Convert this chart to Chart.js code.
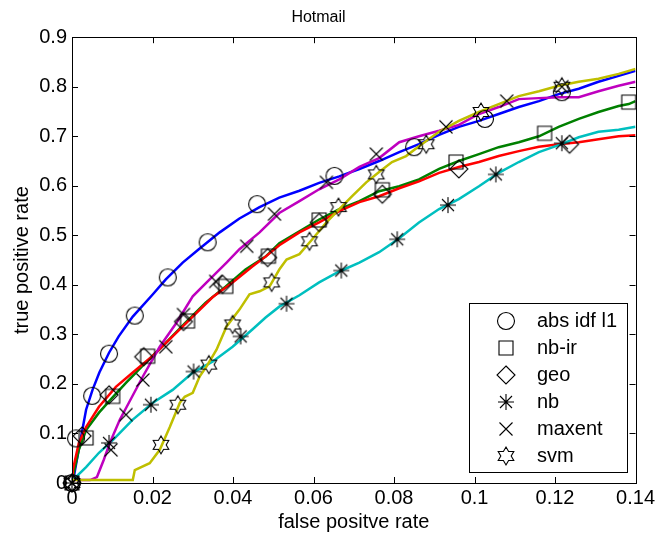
<!DOCTYPE html>
<html>
<head>
<meta charset="utf-8">
<script src="https://cdn.jsdelivr.net/npm/chart.js@4/dist/chart.umd.min.js"></script>
<style>
  html, body { margin: 0; padding: 0; background: #fff; }
  #wrap { width: 658px; height: 535px; }
</style>
</head>
<body>
<div id="wrap"><canvas id="grafico" width="658" height="535"></canvas></div>
<script>
// ===== DADOS =====
const chartTitle = 'Hotmail';
const xTitle = 'false positve rate';
const yTitle = 'true positive rate';

const xTicks = [0, 0.02, 0.04, 0.06, 0.08, 0.1, 0.12, 0.14];
const xTickLabels = ['0', '0.02', '0.04', '0.06', '0.08', '0.1', '0.12', '0.14'];
const yTicks = [0, 0.1, 0.2, 0.3, 0.4, 0.5, 0.6, 0.7, 0.8, 0.9];
const yTickLabels = ['0', '0.1', '0.2', '0.3', '0.4', '0.5', '0.6', '0.7', '0.8', '0.9'];

const seriesNames = ['abs idf l1', 'nb-ir', 'geo', 'nb', 'maxent', 'svm'];
const seriesColors = ['#0000ff', '#008000', '#ff0000', '#00bfbf', '#bf00bf', '#bfbf00'];
const markerShapes = ['circle', 'square', 'diamond', 'asterisk', 'x', 'hexagram'];

// curvas [fpr, tpr]
const absIdfL1Curve = [[0,0],[0.0003,0.006],[0.0018,0.073],[0.0035,0.148],[0.0051,0.188],[0.0068,0.223],[0.0092,0.263],[0.0116,0.296],[0.0151,0.336],[0.0201,0.381],[0.0233,0.411],[0.0275,0.445],[0.0315,0.472],[0.0367,0.506],[0.0416,0.534],[0.0466,0.557],[0.0515,0.576],[0.0565,0.590],[0.0614,0.606],[0.0664,0.619],[0.0714,0.634],[0.0763,0.650],[0.0813,0.668],[0.0862,0.684],[0.0912,0.703],[0.0961,0.719],[0.1011,0.731],[0.1060,0.745],[0.1110,0.759],[0.1160,0.771],[0.1209,0.785],[0.1259,0.796],[0.1308,0.810],[0.1358,0.822],[0.14,0.832]];
const nbIrCurve = [[0,0],[0.0002,0.012],[0.0017,0.067],[0.0035,0.107],[0.0067,0.142],[0.0102,0.174],[0.0134,0.202],[0.0183,0.243],[0.0233,0.283],[0.0282,0.324],[0.0332,0.364],[0.0382,0.397],[0.0431,0.431],[0.0481,0.457],[0.0515,0.484],[0.0565,0.508],[0.0614,0.532],[0.0664,0.553],[0.0714,0.569],[0.0763,0.589],[0.0813,0.599],[0.0862,0.613],[0.0912,0.634],[0.0961,0.650],[0.1011,0.664],[0.1060,0.678],[0.1110,0.688],[0.1160,0.700],[0.1209,0.719],[0.1259,0.735],[0.1308,0.749],[0.1358,0.761],[0.1383,0.765],[0.14,0.771]];
const geoCurve = [[0,0],[0.0002,0.026],[0.0017,0.081],[0.0035,0.113],[0.0067,0.154],[0.0109,0.194],[0.0151,0.223],[0.0201,0.257],[0.0250,0.296],[0.0300,0.336],[0.0349,0.375],[0.0399,0.405],[0.0448,0.437],[0.0481,0.457],[0.0515,0.480],[0.0565,0.506],[0.0614,0.526],[0.0664,0.549],[0.0714,0.567],[0.0763,0.579],[0.0813,0.595],[0.0862,0.609],[0.0912,0.626],[0.0961,0.638],[0.1011,0.648],[0.1060,0.660],[0.1110,0.670],[0.1160,0.679],[0.1209,0.684],[0.1259,0.688],[0.1308,0.694],[0.1358,0.700],[0.14,0.702]];
const nbCurve = [[0,0],[0.0002,0.006],[0.0035,0.032],[0.0067,0.061],[0.0102,0.087],[0.0151,0.128],[0.0201,0.162],[0.0250,0.188],[0.0300,0.223],[0.0349,0.245],[0.0399,0.275],[0.0448,0.310],[0.0481,0.334],[0.0515,0.356],[0.0565,0.379],[0.0614,0.405],[0.0664,0.427],[0.0714,0.445],[0.0763,0.466],[0.0813,0.494],[0.0862,0.526],[0.0912,0.553],[0.0961,0.573],[0.1011,0.599],[0.1060,0.626],[0.1110,0.648],[0.1160,0.668],[0.1209,0.682],[0.1259,0.698],[0.1308,0.709],[0.1358,0.713],[0.14,0.719]];
const maxentCurve = [[0,0],[0.0002,0.006],[0.0045,0.006],[0.0062,0.012],[0.0079,0.047],[0.0094,0.081],[0.0119,0.128],[0.0136,0.154],[0.0176,0.215],[0.0218,0.275],[0.0260,0.324],[0.0300,0.377],[0.0342,0.411],[0.0384,0.445],[0.0416,0.472],[0.0466,0.506],[0.0515,0.545],[0.0565,0.569],[0.0614,0.593],[0.0664,0.613],[0.0714,0.638],[0.0763,0.656],[0.0813,0.688],[0.0862,0.700],[0.0912,0.711],[0.0961,0.723],[0.1011,0.745],[0.1060,0.759],[0.1110,0.775],[0.1160,0.777],[0.1209,0.779],[0.1259,0.779],[0.1308,0.791],[0.1358,0.802],[0.14,0.810]];
const svmCurve = [[0,0],[0.0002,0.006],[0.0151,0.006],[0.0156,0.026],[0.0193,0.040],[0.0218,0.067],[0.0243,0.113],[0.0268,0.162],[0.0280,0.174],[0.0300,0.182],[0.0317,0.215],[0.0334,0.235],[0.0359,0.269],[0.0384,0.316],[0.0416,0.350],[0.0441,0.381],[0.0466,0.387],[0.0491,0.397],[0.0515,0.431],[0.0533,0.451],[0.0565,0.462],[0.0597,0.492],[0.0632,0.526],[0.0664,0.553],[0.0696,0.579],[0.0731,0.607],[0.0763,0.628],[0.0795,0.648],[0.0830,0.660],[0.0862,0.680],[0.0912,0.709],[0.0961,0.731],[0.1011,0.749],[0.1060,0.765],[0.1110,0.781],[0.1160,0.791],[0.1209,0.802],[0.1259,0.810],[0.1308,0.816],[0.1358,0.826],[0.14,0.836]];

// marcadores
const absIdfL1Marks = [[0,0],[0.001,0.09],[0.005,0.176],[0.0092,0.261],[0.0156,0.338],[0.0238,0.415],[0.0337,0.486],[0.046,0.563],[0.0652,0.62],[0.085,0.678],[0.1026,0.735],[0.1217,0.789]];
const nbIrMarks = [[0,0],[0.0035,0.091],[0.0101,0.175],[0.0188,0.256],[0.0287,0.327],[0.0382,0.397],[0.0488,0.458],[0.0614,0.531],[0.0771,0.592],[0.0954,0.648],[0.1174,0.706],[0.1383,0.769]];
const geoMarks = [[0,0],[0.0025,0.095],[0.0092,0.178],[0.0178,0.255],[0.0277,0.326],[0.0374,0.401],[0.0486,0.455],[0.0614,0.526],[0.0771,0.583],[0.0961,0.634],[0.1236,0.684]];
const nbMarks = [[0,0],[0.0092,0.081],[0.0196,0.158],[0.0302,0.225],[0.0419,0.296],[0.0533,0.362],[0.0669,0.429],[0.0808,0.492],[0.0934,0.561],[0.1053,0.623],[0.1217,0.686]];
const maxentMarks = [[0,0],[0.0097,0.067],[0.0134,0.138],[0.0176,0.208],[0.0233,0.275],[0.0277,0.340],[0.0357,0.407],[0.0434,0.478],[0.0503,0.543],[0.0632,0.607],[0.0756,0.664],[0.0929,0.719],[0.108,0.771],[0.1217,0.800]];
const svmMarks = [[0,0],[0.0221,0.077],[0.0263,0.158],[0.034,0.239],[0.0399,0.32],[0.0496,0.405],[0.059,0.488],[0.0662,0.557],[0.0756,0.623],[0.088,0.684],[0.1016,0.749],[0.1217,0.800]];

const curves = [absIdfL1Curve, nbIrCurve, geoCurve, nbCurve, maxentCurve, svmCurve];
const marks = [absIdfL1Marks, nbIrMarks, geoMarks, nbMarks, maxentMarks, svmMarks];

// ===== MARCADORES (estilo matlab) =====
function desenharMarcador(ctx, shape, cx, cy) {
  ctx.save();
  ctx.strokeStyle = '#000';
  ctx.lineWidth = 1.1;
  ctx.beginPath();
  if (shape === 'circle') {
    ctx.arc(cx, cy, 8.5, 0, Math.PI * 2);
  } else if (shape === 'square') {
    ctx.rect(cx - 7, cy - 7, 14, 14);
  } else if (shape === 'diamond') {
    ctx.moveTo(cx, cy - 9); ctx.lineTo(cx + 9, cy); ctx.lineTo(cx, cy + 9); ctx.lineTo(cx - 9, cy); ctx.closePath();
  } else if (shape === 'asterisk') {
    ctx.moveTo(cx, cy - 8); ctx.lineTo(cx, cy + 8);
    ctx.moveTo(cx - 8, cy); ctx.lineTo(cx + 8, cy);
    ctx.moveTo(cx - 6, cy - 6); ctx.lineTo(cx + 6, cy + 6);
    ctx.moveTo(cx - 6, cy + 6); ctx.lineTo(cx + 6, cy - 6);
  } else if (shape === 'x') {
    ctx.moveTo(cx - 6.5, cy - 6.5); ctx.lineTo(cx + 6.5, cy + 6.5);
    ctx.moveTo(cx - 6.5, cy + 6.5); ctx.lineTo(cx + 6.5, cy - 6.5);
  } else if (shape === 'hexagram') {
    const R = 9, r = 9 / Math.sqrt(3);
    for (let k = 0; k < 12; k++) {
      const a = -Math.PI / 2 + k * Math.PI / 6;
      const rr = k % 2 === 0 ? R : r;
      const px = cx + rr * Math.cos(a), py = cy + rr * Math.sin(a);
      if (k === 0) ctx.moveTo(px, py); else ctx.lineTo(px, py);
    }
    ctx.closePath();
  }
  ctx.stroke();
  ctx.restore();
}

function criarImagem(shape) {
  const c = document.createElement('canvas');
  c.width = 24; c.height = 24;
  desenharMarcador(c.getContext('2d'), shape, 12, 12);
  return c;
}

// ===== PLUGINS =====
const molduraPlugin = {
  id: 'moldura',
  afterDatasetsDraw(chart) {
    const { ctx, chartArea: a, scales } = chart;
    ctx.save();
    ctx.strokeStyle = '#000';
    ctx.lineWidth = 1;
    ctx.beginPath();
    xTicks.forEach(v => {
      const px = Math.round(scales.x.getPixelForValue(v)) + 0.5;
      ctx.moveTo(px, a.bottom); ctx.lineTo(px, a.bottom - 6);
      ctx.moveTo(px, a.top); ctx.lineTo(px, a.top + 6);
    });
    yTicks.forEach(v => {
      const py = Math.round(scales.y.getPixelForValue(v)) + 0.5;
      ctx.moveTo(a.left, py); ctx.lineTo(a.left + 6, py);
      ctx.moveTo(a.right, py); ctx.lineTo(a.right - 6, py);
    });
    ctx.stroke();
    ctx.strokeRect(Math.round(a.left) + 0.5, Math.round(a.top) + 0.5,
      Math.round(a.right - a.left), Math.round(a.bottom - a.top));
    ctx.restore();
  }
};

const legendaPlugin = {
  id: 'legenda',
  afterDraw(chart) {
    const ctx = chart.ctx;
    const bx = 469.5, by = 303.5, bw = 158, bh = 169;
    ctx.save();
    ctx.fillStyle = '#fff';
    ctx.fillRect(bx, by, bw, bh);
    ctx.strokeStyle = '#000';
    ctx.lineWidth = 1;
    ctx.strokeRect(bx, by, bw, bh);
    ctx.font = '20px "Liberation Sans", Arial, sans-serif';
    ctx.fillStyle = '#000';
    ctx.textBaseline = 'middle';
    ctx.textAlign = 'left';
    seriesNames.forEach((nome, i) => {
      const y = 321 + i * 27;
      desenharMarcador(ctx, markerShapes[i], 506, y);
      ctx.fillText(nome, 537, y);
    });
    ctx.restore();
  }
};

// ===== GRÁFICO =====
const datasets = [];
curves.forEach((c, i) => {
  datasets.push({
    label: seriesNames[i] + ' linha',
    data: c.map(([x, y]) => ({ x, y })),
    showLine: true,
    borderColor: seriesColors[i],
    borderWidth: 2.5,
    pointRadius: 0,
    tension: 0,
    order: 6 - i
  });
});
marks.forEach((m, i) => {
  datasets.push({
    label: seriesNames[i],
    data: m.map(([x, y]) => ({ x, y })),
    showLine: false,
    pointStyle: criarImagem(markerShapes[i]),
    pointRadius: 9,
    clip: false,
    order: 0
  });
});

const fonte = '"Liberation Sans", Arial, sans-serif';

const ctx = document.getElementById('grafico').getContext('2d');
const grafico = new Chart(ctx, {
  type: 'scatter',
  data: { datasets },
  options: {
    responsive: false,
    animation: false,
    events: [],
    layout: { padding: { left: 0, right: 21, top: 0, bottom: 0 } },
    plugins: {
      legend: { display: false },
      tooltip: { enabled: false },
      title: {
        display: true,
        text: chartTitle,
        color: '#000',
        font: { family: fonte, size: 16, weight: 'normal' },
        padding: { top: 7.5, bottom: 10.5 }
      }
    },
    scales: {
      x: {
        type: 'linear',
        min: 0, max: 0.14,
        afterBuildTicks: s => { s.ticks = xTicks.map(v => ({ value: v })); },
        afterFit: s => { s.height = 52; },
        grid: { display: false, drawTicks: false },
        border: { display: false },
        ticks: {
          color: '#000',
          padding: 3,
          maxRotation: 0,
          font: { family: fonte, size: 20 },
          callback: (v, idx) => xTickLabels[idx]
        },
        title: {
          display: true,
          text: xTitle,
          color: '#000',
          font: { family: fonte, size: 20 },
          padding: { top: 0, bottom: 1 }
        }
      },
      y: {
        type: 'linear',
        min: 0, max: 0.9,
        afterBuildTicks: s => { s.ticks = yTicks.map(v => ({ value: v })); },
        afterFit: s => { s.width = 72; },
        grid: { display: false, drawTicks: false },
        border: { display: false },
        ticks: {
          color: '#000',
          padding: 5,
          font: { family: fonte, size: 20 },
          callback: (v, idx) => yTickLabels[idx]
        },
        title: {
          display: true,
          text: yTitle,
          color: '#000',
          font: { family: fonte, size: 20 },
          padding: { top: 10, bottom: 0 }
        }
      }
    }
  },
  plugins: [molduraPlugin, legendaPlugin]
});
</script>
</body>
</html>
